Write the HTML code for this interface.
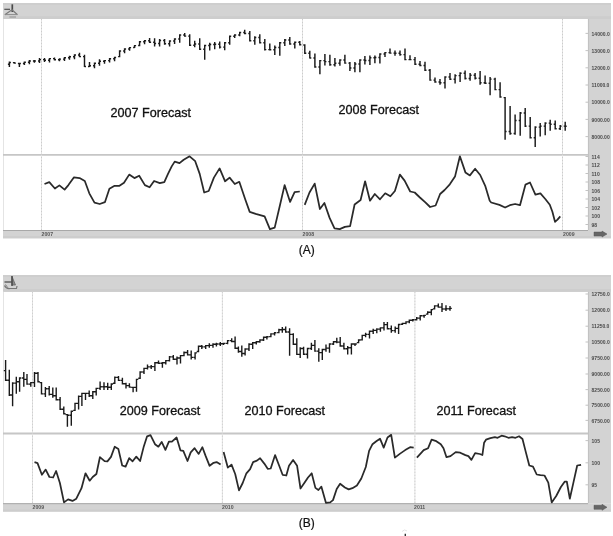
<!DOCTYPE html>
<html><head><meta charset="utf-8"><title>Forecast charts</title>
<style>
html,body{margin:0;padding:0;background:#fff;}
body{width:613px;height:536px;overflow:hidden;}
svg{display:block;filter:blur(0.3px);}
.fc{font-family:"Liberation Sans",Arial,sans-serif;font-size:12.6px;fill:#111;stroke:#111;stroke-width:0.3px;}
.lbl{font-family:"Liberation Sans",Arial,sans-serif;font-size:12px;fill:#111;stroke:#111;stroke-width:0.2px;}
.ax{font-family:"Liberation Sans",Arial,sans-serif;font-size:5px;font-weight:bold;fill:#4a4a4a;}
.bx{font-family:"Liberation Sans",Arial,sans-serif;font-size:5.2px;font-weight:bold;fill:#555;}
</style></head>
<body>
<svg width="613" height="536" viewBox="0 0 613 536">
<rect width="613" height="536" fill="#fff"/>
<rect x="3" y="3" width="608" height="16" fill="#d3d3d3"/>
<rect x="3" y="3" width="608" height="2" fill="#cecece"/>
<rect x="3" y="16.2" width="608" height="2.8" fill="#cdcdcd"/>
<rect x="588" y="19" width="23" height="211" fill="#d3d3d3"/>
<line x1="588.5" y1="19" x2="588.5" y2="230" stroke="#c2c2c2" stroke-width="1.2"/>
<line x1="3.5" y1="19" x2="3.5" y2="230" stroke="#e4e4e4" stroke-width="1"/>
<line x1="3" y1="154.8" x2="588" y2="154.8" stroke="#c6c6c6" stroke-width="1.8"/>
<line x1="41.5" y1="19" x2="41.5" y2="230" stroke="#e2e2e2" stroke-width="1"/>
<line x1="41.5" y1="19" x2="41.5" y2="230" stroke="#cccccc" stroke-width="1" stroke-dasharray="1 2"/>
<line x1="302.5" y1="19" x2="302.5" y2="230" stroke="#e2e2e2" stroke-width="1"/>
<line x1="302.5" y1="19" x2="302.5" y2="230" stroke="#cccccc" stroke-width="1" stroke-dasharray="1 2"/>
<line x1="562.5" y1="19" x2="562.5" y2="230" stroke="#e2e2e2" stroke-width="1"/>
<line x1="562.5" y1="19" x2="562.5" y2="230" stroke="#cccccc" stroke-width="1" stroke-dasharray="1 2"/>
<rect x="3" y="230" width="608" height="8.300000000000011" fill="#d3d3d3"/>
<rect x="3" y="236.10000000000002" width="608" height="2.2" fill="#cdcdcd"/>
<line x1="3" y1="230.5" x2="588" y2="230.5" stroke="#a8a8a8" stroke-width="1"/>
<text x="41.5" y="236.2" class="bx">2007</text>
<text x="302.5" y="236.2" class="bx">2008</text>
<text x="563" y="236.2" class="bx">2009</text>
<path d="M594 232.05H602V231.05L607 234.05L602 237.05V236.05H594Z" fill="#666" stroke="#555" stroke-width="0.5"/>
<line x1="585.5" y1="33.4" x2="588" y2="33.4" stroke="#b4b4b4" stroke-width="0.8"/>
<text x="591.6" y="35.6" class="ax">14000.0</text>
<line x1="585.5" y1="50.6" x2="588" y2="50.6" stroke="#b4b4b4" stroke-width="0.8"/>
<text x="591.6" y="52.800000000000004" class="ax">13000.0</text>
<line x1="585.5" y1="67.8" x2="588" y2="67.8" stroke="#b4b4b4" stroke-width="0.8"/>
<text x="591.6" y="70.0" class="ax">12000.0</text>
<line x1="585.5" y1="85" x2="588" y2="85" stroke="#b4b4b4" stroke-width="0.8"/>
<text x="591.6" y="87.2" class="ax">11000.0</text>
<line x1="585.5" y1="102.2" x2="588" y2="102.2" stroke="#b4b4b4" stroke-width="0.8"/>
<text x="591.6" y="104.4" class="ax">10000.0</text>
<line x1="585.5" y1="119.4" x2="588" y2="119.4" stroke="#b4b4b4" stroke-width="0.8"/>
<text x="591.6" y="121.60000000000001" class="ax">9000.00</text>
<line x1="585.5" y1="136.6" x2="588" y2="136.6" stroke="#b4b4b4" stroke-width="0.8"/>
<text x="591.6" y="138.79999999999998" class="ax">8000.00</text>
<line x1="585.5" y1="156.5" x2="588" y2="156.5" stroke="#b4b4b4" stroke-width="0.8"/>
<text x="591.6" y="158.7" class="ax">114</text>
<line x1="585.5" y1="165" x2="588" y2="165" stroke="#b4b4b4" stroke-width="0.8"/>
<text x="591.6" y="167.2" class="ax">112</text>
<line x1="585.5" y1="173.5" x2="588" y2="173.5" stroke="#b4b4b4" stroke-width="0.8"/>
<text x="591.6" y="175.7" class="ax">110</text>
<line x1="585.5" y1="182" x2="588" y2="182" stroke="#b4b4b4" stroke-width="0.8"/>
<text x="591.6" y="184.2" class="ax">108</text>
<line x1="585.5" y1="190.5" x2="588" y2="190.5" stroke="#b4b4b4" stroke-width="0.8"/>
<text x="591.6" y="192.7" class="ax">106</text>
<line x1="585.5" y1="199" x2="588" y2="199" stroke="#b4b4b4" stroke-width="0.8"/>
<text x="591.6" y="201.2" class="ax">104</text>
<line x1="585.5" y1="207.5" x2="588" y2="207.5" stroke="#b4b4b4" stroke-width="0.8"/>
<text x="591.6" y="209.7" class="ax">102</text>
<line x1="585.5" y1="216" x2="588" y2="216" stroke="#b4b4b4" stroke-width="0.8"/>
<text x="591.6" y="218.2" class="ax">100</text>
<line x1="585.5" y1="224.5" x2="588" y2="224.5" stroke="#b4b4b4" stroke-width="0.8"/>
<text x="591.6" y="226.7" class="ax">98</text>
<g transform="translate(0,0)" fill="none"><path d="M12.3 4.3V12" stroke="#4a4a4a" stroke-width="1.7"/><path d="M4.3 9.3H10" stroke="#505050" stroke-width="1.2"/><path d="M4.8 14.8L12 9.8L17.5 14.8" stroke="#7a7a7a" stroke-width="1.2"/><path d="M5 14.6H17" stroke="#8a8a8a" stroke-width="1"/><path d="M9.4 17H16" stroke="#9a9a9a" stroke-width="1.2"/></g>
<path d="M9.4 61.5V67M7.9 64.2H9.4M9.4 62.4H10.9M14.4 61.9V63.8M12.9 62.6H14.4M14.4 63.1H15.9M19.4 62.7V67M17.9 63.4H19.4M19.4 63.4H20.9M24.4 61.5V65M22.9 63.4H24.4M24.4 62.2H25.9M29.4 59.9V64.2M27.9 62.2H29.4M29.4 61H30.9M34.4 60.1V62.7M32.9 61H34.4M34.4 60.9H35.9M39.5 57.9V62.9M38 60.9H39.5M39.5 59.6H41M44.5 57.9V62.1M43 59.6H44.5M44.5 60.2H46M49.5 57.9V62.5M48 60.2H49.5M49.5 58.6H51M54.5 57.4V60.6M53 58.6H54.5M54.5 59.8H56M59.5 58.2V61.2M58 59.8H59.5M59.5 59.1H61M64.5 56.9V61M63 59.1H64.5M64.5 57.7H66M69.5 55.7V59.8M68 57.7H69.5M69.5 56.7H71M74.5 54.2V59.3M73 56.7H74.5M74.5 54.9H76M79.5 52.7V57.3M78 54.9H79.5M79.5 56.6H81M84.5 54.7V67.1M83 56.6H84.5M84.5 66.4H86M89.5 61.9V67.1M88 66.4H89.5M89.5 65.8H91M94.5 62.6V68.3M93 65.8H94.5M94.5 63.3H96M99.5 59.3V65.8M98 63.3H99.5M99.5 61.2H101M104.5 59.9V63.8M103 61.2H104.5M104.5 60.6H106M109.6 58V62.5M108.1 60.6H109.6M109.6 58.8H111.1M114.6 56.7V61.2M113.1 58.8H114.6M114.6 57.4H116.1M119.6 50.2V57.3M118.1 56.6H119.6M119.6 50.9H121.1M124.6 48.2V53.3M123.1 50.9H124.6M124.6 48.9H126.1M129.6 46.9V50.8M128.1 48.9H129.6M129.6 47.6H131.1M134.6 44.9V48.1M133.1 47.4H134.6M134.6 45.6H136.1M139.6 41V46.2M138.1 45.5H139.6M139.6 41.7H141.1M144.6 40.1V44.2M143.1 41.7H144.6M144.6 40.8H146.1M149.6 38V43.1M148.1 40.8H149.6M149.6 42.3H151.1M154.6 38.2V46.6M153.1 42.3H154.6M154.6 43.5H156.1M159.6 38.9V46.6M158.1 43.5H159.6M159.6 40.5H161.1M164.6 38.9V44.7M163.1 40.5H164.6M164.6 43.8H166.1M169.6 40.2V46.6M168.1 43.8H169.6M169.6 40.9H171.1M174.6 38.2V44M173.1 40.9H174.6M174.6 38.9H176.1M179.7 34.3V42.7M178.2 38.9H179.7M179.7 35H181.2M184.7 33V36.8M183.2 35H184.7M184.7 36.1H186.2M189.7 34.3V46M188.2 36.1H189.7M189.7 45.3H191.2M194.7 40.8V47.3M193.2 45.3H194.7M194.7 44H196.2M199.7 38.2V49.9M198.2 44H199.7M199.7 49.2H201.2M204.7 44.7V59.7M203.2 49.2H204.7M204.7 45.4H206.2M209.7 42.7V50.5M208.2 45.4H209.7M209.7 44.5H211.2M214.7 42.1V49.3M213.2 44.5H214.7M214.7 44.3H216.2M219.7 41.5V48.6M218.2 44.3H219.7M219.7 47.1H221.2M224.7 42.1V50.3M223.2 47.1H224.7M224.7 42.8H226.2M229.7 35.6V44.7M228.2 42.8H229.7M229.7 36.3H231.2M234.7 34.3V38.1M233.2 36.3H234.7M234.7 35H236.2M239.7 31.7V36.2M238.2 35H239.7M239.7 32.4H241.2M244.7 29.7V34.2M243.2 32.4H244.7M244.7 33.5H246.2M249.8 31V41.4M248.3 33.5H249.8M249.8 40.7H251.3M254.8 36.2V44.7M253.3 40.7H254.8M254.8 37.5H256.3M259.8 34.3V43.4M258.3 37.5H259.8M259.8 42.7H261.3M264.8 38.9V50.5M263.3 42.7H264.8M264.8 49.6H266.3M269.8 43.4V50.5M268.3 49.6H269.8M269.8 49.8H271.3M274.8 45.4V55.1M273.3 49.8H274.8M274.8 47.4H276.3M279.8 42.1V55.8M278.3 47.4H279.8M279.8 42.8H281.3M284.8 38.9V46M283.3 42.8H284.8M284.8 39.9H286.3M289.8 36.9V44.7M288.3 39.9H289.8M289.8 44H291.3M294.8 41.5V48.6M293.3 44H294.8M294.8 42.2H296.3M299.8 40.9V45.5M298.3 42.2H299.8M299.8 44.8H301.3M304.8 44.3V54M303.3 45H304.8M304.8 53.3H306.3M309.8 50.8V58.6M308.3 53.3H309.8M309.8 57.9H311.3M314.9 53.4V67.7M313.4 57.9H314.9M314.9 67H316.4M319.9 59.9V74.3M318.4 67H319.9M319.9 60.6H321.4M324.9 53.9V65.6M323.4 60.6H324.9M324.9 61.6H326.4M329.9 54.7V65.8M328.4 61.6H329.9M329.9 64.7H331.4M334.9 58V66.4M333.4 64.7H334.9M334.9 63.2H336.4M339.9 59.3V65.8M338.4 63.2H339.9M339.9 60H341.4M344.9 54.7V63.8M343.4 60H344.9M344.9 63.1H346.4M349.9 61.9V71M348.4 63.1H349.9M349.9 68H351.4M354.9 61.9V72.3M353.4 68H354.9M354.9 64H356.4M359.9 59.3V72.3M358.4 64H359.9M359.9 60H361.4M364.9 56V64.5M363.4 60H364.9M364.9 60.4H366.4M369.9 55.6V65M368.4 60.4H369.9M369.9 57.8H371.4M374.9 55.6V63.3M373.4 57.8H374.9M374.9 57.5H376.4M379.9 53.2V63.6M378.4 57.5H379.9M379.9 53.9H381.4M385 51.9V57.1M383.5 53.9H385M385 52.6H386.5M390 48.6V53.8M388.5 52.6H390M390 53.1H391.5M395 50.6V55.8M393.5 53.1H395M395 53.2H396.5M400 50.6V55.8M398.5 53.2H400M400 54.6H401.5M405 48.6V60.3M403.5 54.6H405M405 59.6H406.5M410 55.2V60.3M408.5 59.6H410M410 59.6H411.5M415 57.1V64.9M413.5 59.6H415M415 64.2H416.5M420 61V66.2M418.5 64.2H420M420 65.5H421.5M425 61.7V71M423.5 65.5H425M425 70.3H426.5M430 68.9V80.8M428.5 70.3H430M430 80.1H431.5M435 77.5V82.7M433.5 80.1H435M435 82H436.5M440 78.9V84.7M438.5 82H440M440 82.7H441.5M445 76.2V88.6M443.5 82.7H445M445 76.9H446.5M450 73V80.1M448.5 76.9H450M450 79.3H451.5M455.1 74.3V83.4M453.6 79.3H455.1M455.1 75.6H456.6M460.1 72.3V82.1M458.6 75.6H460.1M460.1 73.2H461.6M465.1 70.4V79.5M463.6 73.2H465.1M465.1 78.5H466.6M470.1 73V80.8M468.6 78.5H470.1M470.1 75.2H471.6M475.1 73V79.5M473.6 75.2H475.1M475.1 78.3H476.6M480.1 71V84.7M478.6 78.3H480.1M480.1 82.8H481.6M485.1 75.6V84M483.6 82.8H485.1M485.1 83.3H486.6M490.1 77.1V95.3M488.6 83.3H490.1M490.1 79.1H491.6M495.1 77.7V90.3M493.6 79.1H495.1M495.1 89.6H496.6M500.1 82.2V97.7M498.6 89.6H500.1M500.1 97H501.6M505.1 96.9V139.8M503.6 97.6H505.1M505.1 131.4H506.6M510.1 106V134.7M508.6 131.4H510.1M510.1 133.4H511.6M515.1 114.5V134.7M513.6 133.4H515.1M515.1 120.5H516.6M520.2 111.9V135.8M518.7 120.5H520.2M520.2 112.9H521.7M525.2 108.1V126.9M523.7 112.9H525.2M525.2 126.1H526.7M530.2 117.1V138.6M528.7 126.1H530.2M530.2 137.7H531.7M535.2 126.3V147.1M533.7 137.7H535.2M535.2 127.1H536.7M540.2 123V136.6M538.7 127.1H540.2M540.2 126.1H541.7M545.2 122.3V135.3M543.7 126.1H545.2M545.2 123.1H546.7M550.2 119.7V130.8M548.7 123.1H550.2M550.2 124.2H551.7M555.2 120.4V129.5M553.7 124.2H555.2M555.2 128.8H556.7M560.2 124.9V130.1M558.7 128.8H560.2M560.2 126.1H561.7M565.2 121.7V130.8M563.7 126.1H565.2M565.2 126.2H566.7" stroke="#1a1a1a" stroke-width="1.45" fill="none"/>
<path d="M44.5 184L49.3 182.1L54.9 188.5L59.4 185.4L64.6 189.6L68.4 185.1L74 177.3L79.6 178.1L84.8 181L89.3 193.3L94.5 202.7L99.7 204L104.9 202.2L109.4 188.8L114.6 185.8L119.5 185.8L124 182.8L129.2 174.6L134.4 178.1L139.2 175.7L144.9 185.1L149.6 187.3L154.1 181L159.8 183.1L164.3 182.1L168 173.9L171.7 166.4L174.7 161.6L179.5 163.1L183.7 159.7L189.6 156.3L195.2 161.2L199.7 173.9L204.2 192.5L208.7 191L213.9 177.6L219.6 168.4L225.1 181.3L229.6 177.6L234.8 184L239.3 181.8L245.2 199.3L249.7 211.9L255.7 213.9L264.6 216.4L269.9 229.1L274.7 227.6L279.6 206.7L284.6 185.1L290.1 201.9L294.6 192.1L299.8 191.5" stroke="#2a2a2a" stroke-width="1.75" fill="none" stroke-linejoin="round"/>
<path d="M304.7 204.9L309.5 192.5L314.7 183.6L319.9 209L324.4 203L329.6 217.9L334.5 228.4L339.7 229.1L344.9 226.9L350.1 226.1L354.6 204.5L360.6 200L365.1 181.3L370 200.7L374.8 194L380 199.3L385.2 193.3L390.4 196.3L394.9 191L399.9 174.6L404.6 180.6L410.2 191.5L414.7 192.5L419.9 197.5L425.1 202.2L430.1 207L435.6 205.5L440.1 194L444.6 190L449.8 184.3L455 176.6L459.9 156.3L465.4 172.4L469.9 175.4L475.1 168.7L480.2 175L485.2 185.8L489.7 200.7L491.2 202.5L499.4 204.9L505.1 207.5L509.9 205.2L515.1 204L520 205.2L525.5 184.6L530 182.5L535.4 194.7L540.4 193.4L545.3 199L549.8 204.7L552.4 211.7L555 221.8L557.5 219.6L560.3 216.4" stroke="#2a2a2a" stroke-width="1.75" fill="none" stroke-linejoin="round"/>
<text x="110.5" y="117.3" class="fc">2007 Forecast</text>
<text x="338.5" y="113.8" class="fc">2008 Forecast</text>
<text x="298.8" y="253.8" class="lbl">(A)</text>
<rect x="3" y="275" width="608" height="16.8" fill="#d3d3d3"/>
<rect x="3" y="275" width="608" height="2" fill="#cecece"/>
<rect x="3" y="289.0" width="608" height="2.8" fill="#cdcdcd"/>
<rect x="588" y="291.8" width="23" height="211.39999999999998" fill="#d3d3d3"/>
<line x1="588.5" y1="291.8" x2="588.5" y2="503.2" stroke="#c2c2c2" stroke-width="1.2"/>
<line x1="3.5" y1="291.8" x2="3.5" y2="503.2" stroke="#e4e4e4" stroke-width="1"/>
<line x1="3" y1="433.5" x2="588" y2="433.5" stroke="#c6c6c6" stroke-width="1.8"/>
<line x1="32.5" y1="291.8" x2="32.5" y2="503.2" stroke="#e2e2e2" stroke-width="1"/>
<line x1="32.5" y1="291.8" x2="32.5" y2="503.2" stroke="#cccccc" stroke-width="1" stroke-dasharray="1 2"/>
<line x1="222.4" y1="291.8" x2="222.4" y2="503.2" stroke="#e2e2e2" stroke-width="1"/>
<line x1="222.4" y1="291.8" x2="222.4" y2="503.2" stroke="#cccccc" stroke-width="1" stroke-dasharray="1 2"/>
<line x1="414.9" y1="291.8" x2="414.9" y2="503.2" stroke="#e2e2e2" stroke-width="1"/>
<line x1="414.9" y1="291.8" x2="414.9" y2="503.2" stroke="#cccccc" stroke-width="1" stroke-dasharray="1 2"/>
<rect x="3" y="503.2" width="608" height="8.400000000000034" fill="#d3d3d3"/>
<rect x="3" y="509.40000000000003" width="608" height="2.2" fill="#cdcdcd"/>
<line x1="3" y1="503.7" x2="588" y2="503.7" stroke="#a8a8a8" stroke-width="1"/>
<text x="32.5" y="509.4" class="bx">2009</text>
<text x="222" y="509.4" class="bx">2010</text>
<text x="414" y="509.4" class="bx">2011</text>
<path d="M594 505.29999999999995H602V504.29999999999995L607 507.29999999999995L602 510.29999999999995V509.29999999999995H594Z" fill="#666" stroke="#555" stroke-width="0.5"/>
<line x1="585.5" y1="294" x2="588" y2="294" stroke="#b4b4b4" stroke-width="0.8"/>
<text x="591.6" y="296.2" class="ax">12750.0</text>
<line x1="585.5" y1="310.2" x2="588" y2="310.2" stroke="#b4b4b4" stroke-width="0.8"/>
<text x="591.6" y="312.4" class="ax">12000.0</text>
<line x1="585.5" y1="326.2" x2="588" y2="326.2" stroke="#b4b4b4" stroke-width="0.8"/>
<text x="591.6" y="328.4" class="ax">11250.0</text>
<line x1="585.5" y1="342" x2="588" y2="342" stroke="#b4b4b4" stroke-width="0.8"/>
<text x="591.6" y="344.2" class="ax">10500.0</text>
<line x1="585.5" y1="358" x2="588" y2="358" stroke="#b4b4b4" stroke-width="0.8"/>
<text x="591.6" y="360.2" class="ax">9750.00</text>
<line x1="585.5" y1="374" x2="588" y2="374" stroke="#b4b4b4" stroke-width="0.8"/>
<text x="591.6" y="376.2" class="ax">9000.00</text>
<line x1="585.5" y1="389.6" x2="588" y2="389.6" stroke="#b4b4b4" stroke-width="0.8"/>
<text x="591.6" y="391.8" class="ax">8250.00</text>
<line x1="585.5" y1="405.2" x2="588" y2="405.2" stroke="#b4b4b4" stroke-width="0.8"/>
<text x="591.6" y="407.4" class="ax">7500.00</text>
<line x1="585.5" y1="420.4" x2="588" y2="420.4" stroke="#b4b4b4" stroke-width="0.8"/>
<text x="591.6" y="422.59999999999997" class="ax">6750.00</text>
<line x1="585.5" y1="440.6" x2="588" y2="440.6" stroke="#b4b4b4" stroke-width="0.8"/>
<text x="591.6" y="442.8" class="ax">105</text>
<line x1="585.5" y1="462.8" x2="588" y2="462.8" stroke="#b4b4b4" stroke-width="0.8"/>
<text x="591.6" y="465.0" class="ax">100</text>
<line x1="585.5" y1="484.8" x2="588" y2="484.8" stroke="#b4b4b4" stroke-width="0.8"/>
<text x="591.6" y="487.0" class="ax">95</text>
<g transform="translate(0,272)" fill="none"><path d="M12 4.5L15.5 13H12Z" fill="#8a8a8a" stroke="#666" stroke-width="0.8"/><path d="M12 4V14" stroke="#4a4a4a" stroke-width="1.5"/><path d="M4.5 10H12" stroke="#505050" stroke-width="1.3"/><path d="M4.5 13.5Q6 17 10 16.5H16.5L17 14" stroke="#777" stroke-width="1.2"/><path d="M5 12.5Q8 14 7 16" stroke="#888" stroke-width="1"/></g>
<path d="M5.6 360V381.1M3.8 370.6H5.6M5.6 380.3H7.4M9.3 369.7V396M7.5 380.3H9.3M9.3 395H11.1M12.6 382.3V406.3M10.8 395H12.6M12.6 383.1H14.4M16.3 376.7V393.7M14.5 383.1H16.3M16.3 381.8H18.1M19.6 377.2V391.8M17.8 381.8H19.6M19.6 378H21.4M23.8 372.1V386.7M22 378H23.8M23.8 379.4H25.6M27 374V384.8M25.2 379.4H27M27 384.1H28.8M30.8 381.9V386.7M29 384.1H30.8M30.8 382.6H32.6M34.5 372.1V387.1M32.7 382.6H34.5M34.5 373.3H36.3M38 372.1V382.5M36.2 373.3H38M38 381.8H39.8M41.5 381.9V394.6M39.7 382.6H41.5M41.5 393.9H43.3M45.4 387V396.9M43.6 393.9H45.4M45.4 388.8H47.2M49.2 385.9V395.5M47.4 388.8H49.2M49.2 394.4H51M52.8 387.6V397.7M51 394.4H52.8M52.8 395.8H54.6M56.2 387.6V400.5M54.4 395.8H56.2M56.2 399.8H58M60.1 397.1V410M58.3 399.8H60.1M60.1 409.3H61.9M63.8 406.6V414.5M62 409.3H63.8M63.8 413.8H65.6M67.4 413.9V426.8M65.6 414.6H67.4M67.4 415.2H69.2M71.3 410.5V425.7M69.5 415.2H71.3M71.3 411.2H73.1M75 402.7V411.1M73.2 410.4H75M75 403.4H76.8M78.6 395.4V409.4M76.8 403.4H78.6M78.6 396.4H80.4M81.9 392.7V406.1M80.1 396.4H81.9M81.9 393.4H83.7M85.5 392.7V399.9M83.7 393.4H85.5M85.5 393.4H87.3M89.2 390.4V397.1M87.4 393.4H89.2M89.2 395.8H91M92.8 391.1V399M91 395.8H92.8M92.8 391.8H94.6M96.2 387.7V395.6M94.4 391.8H96.2M96.2 388.4H98M100.1 381.6V390M98.3 388.4H100.1M100.1 386.7H101.9M104 382.2V390M102.2 386.7H104M104 386.8H105.8M107.7 382.7V390M105.9 386.8H107.7M107.7 387.2H109.5M111.3 383.3V390M109.5 387.2H111.3M111.3 384H113.1M114.8 376.6V383.9M113 383.2H114.8M114.8 377.4H116.6M118.5 376V381.1M116.7 377.4H118.5M118.5 380.4H120.3M122.4 377.7V384.4M120.6 380.4H122.4M122.4 383.7H124.2M126 382.7V388.4M124.2 383.7H126M126 385.6H127.8M129.4 383.3V387.8M127.6 385.6H129.4M129.4 387.1H131.2M133.1 386.7V392.3M131.3 387.4H133.1M133.1 387.4H134.9M136.5 378.7V391.7M134.7 387.4H136.5M136.5 379.4H138.3M140.1 371.3V379M138.3 378.3H140.1M140.1 372H141.9M144 367.7V373.9M142.2 372H144M144 368.4H145.8M147.5 364.4V369.4M145.7 368.4H147.5M147.5 366.9H149.3M151.2 364.9V368.9M149.4 366.9H151.2M151.2 366.6H153M154.9 362.1V371.1M153.1 366.6H154.9M154.9 362.8H156.7M158.5 360.5V363.9M156.7 362.8H158.5M158.5 363.2H160.3M162.4 362.1V367.8M160.6 363.2H162.4M162.4 362.8H164.2M165.8 359.9V364.4M164 362.8H165.8M165.8 360.6H167.6M169.5 356V361.6M167.7 360.6H169.5M169.5 356.9H171.3M173.3 354.9V359.9M171.5 356.9H173.3M173.3 359.2H175.1M177 356.5V364.4M175.2 359.2H177M177 358H178.8M180.5 354.9V363.4M178.7 358H180.5M180.5 355.6H182.3M184 351.5V356.3M182.2 355.6H184M184 352.5H185.8M187.6 349.9V355.6M185.8 352.5H187.6M187.6 354.9H189.4M191.2 350.5V359.5M189.4 354.9H191.2M191.2 357.4H193M195.1 352.2V359.5M193.3 357.4H195.1M195.1 352.9H196.9M198.5 345.5V352.2M196.7 351.5H198.5M198.5 346.2H200.3M201.8 344.9V348.9M200 346.2H201.8M201.8 346.9H203.6M205.7 344.9V348.9M203.9 346.9H205.7M205.7 345.6H207.5M209.3 343.2V347.7M207.5 345.6H209.3M209.3 345.4H211.1M213 343.2V347.7M211.2 345.4H213M213 344.3H214.8M216.4 342.7V346.6M214.6 344.3H216.4M216.4 344H218.2M220.3 342.1V346.1M218.5 344H220.3M220.3 343.7H222.1M223.6 342.7V344.9M221.8 343.7H223.6M223.6 343.4H225.4M227.6 339.9V344.3M225.8 343.4H227.6M227.6 340.6H229.4M231.7 338.2V342.2M229.9 340.6H231.7M231.7 341.5H233.5M235.1 336.5V348.9M233.3 341.5H235.1M235.1 348.2H236.9M238.4 346.6V352.8M236.6 348.2H238.4M238.4 351.5H240.2M241.8 345.5V356.7M240 351.5H241.8M241.8 353.5H243.6M245.1 348.3V355.6M243.3 353.5H245.1M245.1 349H246.9M249 343.3V351.1M247.2 349H249M249 344.3H250.8M252.7 342.1V348.9M250.9 344.3H252.7M252.7 342.8H254.5M256.3 341V344.4M254.5 342.8H256.3M256.3 341.7H258.1M259.9 339.3V342.7M258.1 341.7H259.9M259.9 340H261.7M263.6 336.5V341.1M261.8 340H263.6M263.6 337.3H265.4M266.9 336V339.4M265.1 337.3H266.9M266.9 336.7H268.7M270.9 333.2V337.3M269.1 336.6H270.9M270.9 333.9H272.7M274.6 332.1V335.5M272.8 333.9H274.6M274.6 332.8H276.4M278.9 328.8V333.3M277.1 332.6H278.9M278.9 329.8H280.7M282.3 327.1V332.7M280.5 329.8H282.3M282.3 329.5H284.1M285.7 326.5V332.7M283.9 329.5H285.7M285.7 332H287.5M289.6 328.2V355.7M287.8 332H289.6M289.6 334.4H291.4M293.3 333.3V345M291.5 334.4H293.3M293.3 344.3H295.1M296.8 338.3V355.1M295 344.3H296.8M296.8 354.4H298.6M300.2 347.2V357.9M298.4 354.4H300.2M300.2 348.5H302M303.6 346.7V355.1M301.8 348.5H303.6M303.6 354.2H305.4M307.5 347.8V358.5M305.7 354.2H307.5M307.5 348.5H309.3M311.4 342.8V350.1M309.6 348.5H311.4M311.4 345.4H313.2M314.9 340V351.8M313.1 345.4H314.9M314.9 351.1H316.7M318.8 348.3V361.8M317 351.1H318.8M318.8 352.6H320.6M322.3 348.8V360.1M320.5 352.6H322.3M322.3 349.5H324.1M326 344.4V351.7M324.2 349.5H326M326 348.1H327.8M329.5 343.3V352.8M327.7 348.1H329.5M329.5 344H331.3M333.5 341V345M331.7 344H333.5M333.5 341.7H335.3M336.8 337.7V343.3M335 341.7H336.8M336.8 342.1H338.6M340.2 337.1V346.7M338.4 342.1H340.2M340.2 346H342M343.9 342.7V349.4M342.1 346H343.9M343.9 348.7H345.7M347.7 346.1V354.5M345.9 348.7H347.7M347.7 347.7H349.5M351.4 343.3V354.5M349.6 347.7H351.4M351.4 344H353.2M355 343.3V346.1M353.2 344H355M355 344H356.8M358.6 339.3V343.3M356.8 342.6H358.6M358.6 340H360.4M362.2 334.7V340.6M360.4 339.9H362.2M362.2 335.4H364M365.6 332.7V337.3M363.8 335.4H365.6M365.6 334.4H367.4M369.5 330.5V338.4M367.7 334.4H369.5M369.5 331.2H371.3M373.2 328.8V333.9M371.4 331.2H373.2M373.2 330.4H375M376.8 328.3V333.3M375 330.4H376.8M376.8 329.1H378.6M380.4 327.2V331.7M378.6 329.1H380.4M380.4 327.9H382.2M384 322.1V330.6M382.2 327.9H384M384 324.6H385.8M387.4 322.1V329.4M385.6 324.6H387.4M387.4 328.7H389.2M391.3 325.5V332.8M389.5 328.7H391.3M391.3 330.6H393.1M395.2 326.6V332.8M393.4 330.6H395.2M395.2 328.4H397M398.6 323.8V333.9M396.8 328.4H398.6M398.6 324.5H400.4M402.5 322.7V325M400.7 324.3H402.5M402.5 323.4H404.3M406 321.2V324.3M404.2 323.4H406M406 321.9H407.8M409.3 319.5V323.3M407.5 321.9H409.3M409.3 320.2H411.1M412.8 319.1V321.6M411 320.2H412.8M412.8 319.8H414.6M416.7 317.1V320.6M414.9 319.8H416.7M416.7 318.1H418.5M420.2 315.1V320.6M418.4 318.1H420.2M420.2 315.8H422M424.1 314.7V317.7M422.3 315.8H424.1M424.1 315.4H425.9M427.7 311.2V314.8M425.9 314.1H427.7M427.7 312.3H429.5M431.3 308.9V315.3M429.5 312.3H431.3M431.3 309.6H433.1M434.6 305.2V309.6M432.8 308.9H434.6M434.6 305.9H436.4M438.3 303.5V307.8M436.5 305.9H438.3M438.3 307.1H440.1M442 303.1V311.9M440.2 307.1H442M442 309H443.8M446 305.3V310.9M444.2 309H446M446 308.7H447.8M450 306V310.7M448.2 308.7H450M450 308.4H451.8" stroke="#1a1a1a" stroke-width="1.4" fill="none"/>
<path d="M34.5 462.1L37.5 463.1L41.9 474.8L45.7 469.6L49.4 477L53.1 477.5L56.1 471L59.9 483L64 502.4L68.1 499.4L72.5 500.9L76.3 498.7L81.5 488.2L85.5 473.3L89.7 480.7L92.7 477L96.4 474L99.9 457.2L104.6 461.1L107.4 461.4L111 456.9L114.7 446.7L118.4 449.1L122.2 465.5L125.6 466.6L129.2 458.1L132.6 461.3L136.3 456.6L140.1 461L143.8 446.4L147.1 436.3L150.5 435.2L155 444.2L158.4 446.7L161.7 441.9L165.4 449.9L168.9 441.6L171.9 441.6L176.6 437.5L180.4 450.3L183.3 450.9L187.5 461L190.7 452.4L194.6 448.2L198.7 453.9L202.4 447.2L205.4 455.4L209.6 465.8L213.6 462.8L216.6 462.1L220.6 464.6" stroke="#2a2a2a" stroke-width="1.75" fill="none" stroke-linejoin="round"/>
<path d="M223.6 452.1L227.8 467.6L231.5 464.6L235.2 474L239 490.4L242.7 483L246.4 473.3L250.1 469.1L253.1 462.1L256.9 460.6L260.1 458.2L264.3 463.6L267.7 468.8L270.7 468.5L275.1 455.1L279.2 465.8L282.6 474.8L286.3 475.5L289 465.8L293.1 459.9L297.1 465.8L300.5 488.5L304.3 483L308 477.5L311.7 473.3L315.4 487.9L318.4 490L321.4 486.7L325.9 502.8L330.2 502.4L333 500.1L336.7 489L340.1 483.7L344.9 487.5L348.7 489.4L352.4 488.2L356.9 485.5L361.3 478.5L365.8 467L369.1 450.9L372.5 444.2L376.3 441.2L380 438.7L383.7 447.6L387.5 437.5L391.2 434.8L394.9 457.6L400.1 453.6L405.2 450.1L410.1 447.2L413.7 447.6" stroke="#2a2a2a" stroke-width="1.75" fill="none" stroke-linejoin="round"/>
<path d="M416.9 457.6L423.7 450.1L428.1 448.2L431.6 439.7L436.3 441.2L440.8 444.2L443.5 448.2L446.5 457.2L450.5 456.1L455.7 452.1L460.2 452.7L465.4 455.1L468.4 456.1L471.4 459.9L475.1 453.1L479.8 454L482.4 455L484.1 442.7L486 439.7L490.4 438.2L494.9 437.2L497.6 437.8L501.6 435.7L504.6 436.3L508.4 437.8L512.1 437.2L515.5 437.8L519.1 436.3L522.5 439L525.5 450.9L529.3 465.5L533 466.6L536.7 474.5L540.4 475.1L544.5 475.5L548.3 482.6L551.7 502.4L556.2 496L560.9 487L564.8 481.5L566.8 481.5L569.8 498.7L573.3 483.1L577.2 465.5L581.1 464.8" stroke="#2a2a2a" stroke-width="1.75" fill="none" stroke-linejoin="round"/>
<text x="119.8" y="415.3" class="fc">2009 Forecast</text>
<text x="244.5" y="415" class="fc">2010 Forecast</text>
<text x="436.4" y="415" class="fc">2011 Forecast</text>
<text x="298.7" y="527.3" class="lbl">(B)</text>
<path d="M405.3 533.8V536" stroke="#333" stroke-width="1.4"/><path d="M402 531.5Q404.5 528.5 407 531" stroke="#ddd" stroke-width="0.8" fill="none"/>
</svg>
</body></html>
